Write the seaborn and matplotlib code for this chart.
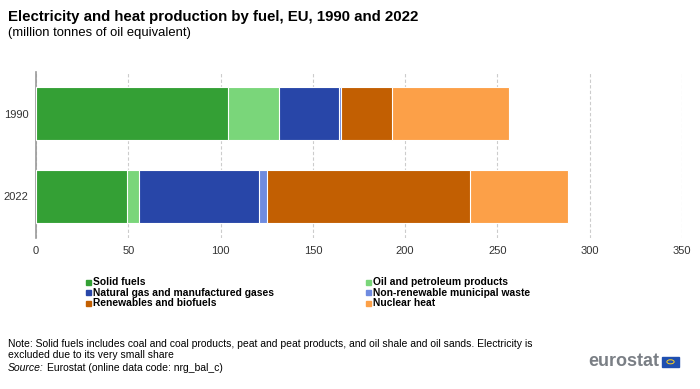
import numpy as np
import pandas as pd
import matplotlib
matplotlib.use("Agg")
import matplotlib.pyplot as plt
from matplotlib.patches import Rectangle, Circle
import seaborn as sns

years = ["1990", "2022"]
fuels = ["Solid fuels", "Oil and petroleum products", "Natural gas and manufactured gases",
         "Non-renewable municipal waste", "Renewables and biofuels", "Nuclear heat"]
solid_fuels = [104.1, 49.5]
oil_products = [27.7, 6.5]
natural_gas = [32.5, 64.6]
municipal_waste = [1.1, 4.7]
renewables = [27.6, 109.9]
nuclear_heat = [63.0, 52.8]
colors = ["#34A035", "#7AD67A", "#2846A8", "#6F8BE0", "#C25F02", "#FCA048"]
x_ticks = [0, 50, 100, 150, 200, 250, 300, 350]

sns.set_theme(style="white")
plt.rcParams['font.family'] = ['Liberation Sans', 'DejaVu Sans']

series = [solid_fuels, oil_products, natural_gas, municipal_waste, renewables, nuclear_heat]
cum = np.cumsum(np.array(series), axis=0)

fig = plt.figure(figsize=(7, 3.89), dpi=100)
ax = fig.add_axes([36/700, 1-238/389, (682-36)/700, (238-72)/389])

for i in range(len(fuels) - 1, -1, -1):
    df = pd.DataFrame({"year": years, "value": cum[i]})
    sns.barplot(data=df, x="value", y="year", orient="h", color=colors[i],
                width=0.645, edgecolor="white", linewidth=0.8, ax=ax,
                saturation=1, zorder=3)

ax.set_xlim(0, 350)
ax.set_ylim(1.5, -0.5)
ax.set_xticks(x_ticks)
ax.set_xticklabels([str(t) for t in x_ticks], fontsize=8, color="#333333")
ax.set_yticks([0, 1])
ax.set_yticklabels(years, fontsize=8, color="#333333")
ax.tick_params(axis="y", length=0, pad=5.5)
ax.tick_params(axis="x", length=0, pad=6)
ax.set_yticks([-0.5, 0.5, 1.5], minor=True)
ax.tick_params(axis="y", which="minor", length=3, color="#888888", width=0.8)
ax.set_xlabel("")
ax.set_ylabel("")
ax.xaxis.grid(True, linestyle=(0, (3, 2)), color="#cccccc", linewidth=0.8, zorder=0)
ax.set_axisbelow(True)
for s in ["top", "right", "bottom"]:
    ax.spines[s].set_visible(False)
ax.spines["left"].set_color("#999999")
ax.spines["left"].set_linewidth(1.2)

fig.text(8/700, 1-17/389, "Electricity and heat production by fuel, EU, 1990 and 2022",
         fontsize=10.8, fontweight="bold", va="center", color="#000000")
fig.text(8/700, 1-33/389, "(million tonnes of oil equivalent)", fontsize=9.4, va="center",
         color="#000000")

# legend
leg_pos = [(86, 282), (366, 282), (86, 292.5), (366, 292.5), (86, 303), (366, 303)]
for (lx, ly), name, c in zip(leg_pos, fuels, colors):
    fig.patches.append(Rectangle(((lx)/700, 1-(ly+2.5)/389), 5/700, 5/389,
                                 transform=fig.transFigure, color=c))
    fig.text((lx+7)/700, 1-ly/389, name, fontsize=7.4, fontweight="bold", va="center",
             color="#000000")

fig.text(8/700, 1-344/389, "Note: Solid fuels includes coal and coal products, peat and peat products, and oil shale and oil sands. Electricity is",
         fontsize=7.5, va="center", color="#000000")
fig.text(8/700, 1-355/389, "excluded due to its very small share", fontsize=7.5, va="center",
         color="#000000")
src = fig.text(8/700, 1-368/389, "Source:", fontsize=7.5, va="center", style="italic",
               color="#000000")
fig.canvas.draw()
bb = src.get_window_extent(renderer=fig.canvas.get_renderer())
fig.text((bb.x1 + 3) / 700, 1-368/389, "Eurostat (online data code: nrg_bal_c)", fontsize=7.5,
         va="center", color="#000000")

fig.text(659/700, 1-362/389, "eurostat", fontsize=13, fontweight="bold", va="center",
         ha="right", color="#7A7F85")
fig.patches.append(Rectangle((662/700, 1-367/389), 17/700, 10.5/389,
                             transform=fig.transFigure, color="#1F4FB0"))
fig.patches.append(Circle((670.5/700, 1-361.8/389), 0.0052, transform=fig.transFigure,
                          fill=False, edgecolor="#FFD21F", linewidth=0.7))

fig.savefig("out.png", dpi=100)
